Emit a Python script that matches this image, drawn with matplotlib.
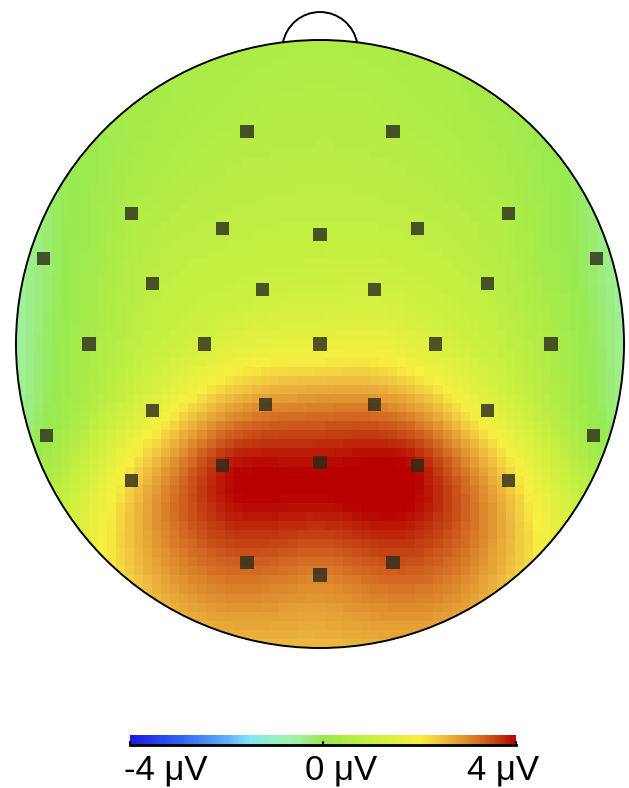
import numpy as np
import matplotlib
matplotlib.use("Agg")
import matplotlib.pyplot as plt
from matplotlib.colors import LinearSegmentedColormap
from matplotlib.patches import Circle, Arc

# electrode positions in head-radius units (front = up) and amplitudes (uV)
elec_x = [-0.24, 0.24,
          -0.62, -0.32, 0.00, 0.32, 0.62,
          -0.91, 0.91,
          -0.55, -0.19, 0.18, 0.55,
          -0.76, -0.38, 0.00, 0.38, 0.76,
          -0.55, -0.18, 0.18, 0.55,
          -0.90, 0.90,
          -0.62, -0.32, 0.00, 0.32, 0.62,
          -0.24, 0.00, 0.24]
elec_y = [0.70, 0.70,
          0.43, 0.38, 0.36, 0.38, 0.43,
          0.28, 0.28,
          0.20, 0.18, 0.18, 0.20,
          0.00, 0.00, 0.00, 0.00, 0.00,
          -0.22, -0.20, -0.20, -0.22,
          -0.30, -0.30,
          -0.45, -0.40, -0.39, -0.40, -0.45,
          -0.72, -0.76, -0.72]
elec_val = [0.6, 0.6,
            0.5, 0.8, 0.9, 0.8, 0.5,
            -0.2, -0.2,
            0.8, 1.1, 1.2, 0.8,
            0.4, 1.3, 1.7, 1.4, 0.5,
            1.6, 2.9, 3.0, 1.7,
            0.1, 0.2,
            2.3, 3.8, 3.9, 3.9, 2.4,
            3.4, 3.1, 3.5]

cbar_ticks = [-4, 0, 4]
cbar_labels = ["-4 μV", "0 μV", "4 μV"]

cmap = LinearSegmentedColormap.from_list("topo", [
    (0.000, "#1a1ae0"), (0.125, "#3060f0"), (0.250, "#60b0f8"),
    (0.310, "#80e8f0"), (0.375, "#98f0c0"), (0.440, "#a0f0a0"),
    (0.500, "#98ea50"), (0.625, "#c8f040"), (0.750, "#f8f040"),
    (0.810, "#f0c040"), (0.870, "#e09030"), (0.920, "#d06020"),
    (0.960, "#c03810"), (1.000, "#b80000")])


def biharmonic(xs, ys, vs, gx, gy):
    # Sandwell biharmonic spline, as used for EEG topographies
    pts = np.column_stack([xs, ys])
    d = np.hypot(pts[:, None, 0] - pts[None, :, 0], pts[:, None, 1] - pts[None, :, 1])
    with np.errstate(divide="ignore", invalid="ignore"):
        g = np.where(d > 0, d ** 2 * (np.log(d) - 1), 0.0)
    w = np.linalg.solve(g, vs)
    dd = np.hypot(gx[..., None] - pts[:, 0], gy[..., None] - pts[:, 1])
    with np.errstate(divide="ignore", invalid="ignore"):
        gg = np.where(dd > 0, dd ** 2 * (np.log(dd) - 1), 0.0)
    return gg @ w


n = 67
lin = np.linspace(-1, 1, n)
gx, gy = np.meshgrid(lin, lin)
z = biharmonic(np.array(elec_x), np.array(elec_y), np.array(elec_val), gx, gy)

fig = plt.figure(figsize=(6.29, 7.88), dpi=100)
ax = fig.add_axes([0, 0, 1, 1])
ax.set_xlim(-320 / 304, 309 / 304)
ax.set_ylim(-444 / 304, 344 / 304)
ax.set_aspect("equal")
ax.axis("off")

im = ax.imshow(z, extent=[-1, 1, -1, 1], origin="lower", cmap=cmap,
               vmin=-4, vmax=4, interpolation="nearest")
clip = Circle((0, 0), 1.0, transform=ax.transData)
im.set_clip_path(clip)

ax.scatter(elec_x, elec_y, marker="s", s=90, color="#2b2b1c", alpha=0.8,
           edgecolors="none", zorder=3)

ax.add_patch(Circle((0, 0), 1.0, fill=False, lw=1.4, color="black", zorder=4))
ax.add_patch(Arc((0, 0.968), 0.248, 0.248, theta1=10, theta2=170,
                 lw=1.4, color="black", zorder=4))

cax = fig.add_axes([130 / 629, 1 - 745 / 788, 386 / 629, 10 / 788])
cb = fig.colorbar(im, cax=cax, orientation="horizontal", ticks=cbar_ticks)
cb.outline.set_visible(False)
cax.spines["bottom"].set_visible(True)
cax.spines["bottom"].set_linewidth(2)
cax.tick_params(length=3, width=1.5, direction="in", labelbottom=False)

label_x = [166 / 629, 341 / 629, 503 / 629]
for lx, lab in zip(label_x, cbar_labels):
    fig.text(lx, 1 - 779 / 788, lab, ha="center", va="baseline", fontsize=25,
             family="Liberation Sans")

fig.savefig("out.png", dpi=100)
